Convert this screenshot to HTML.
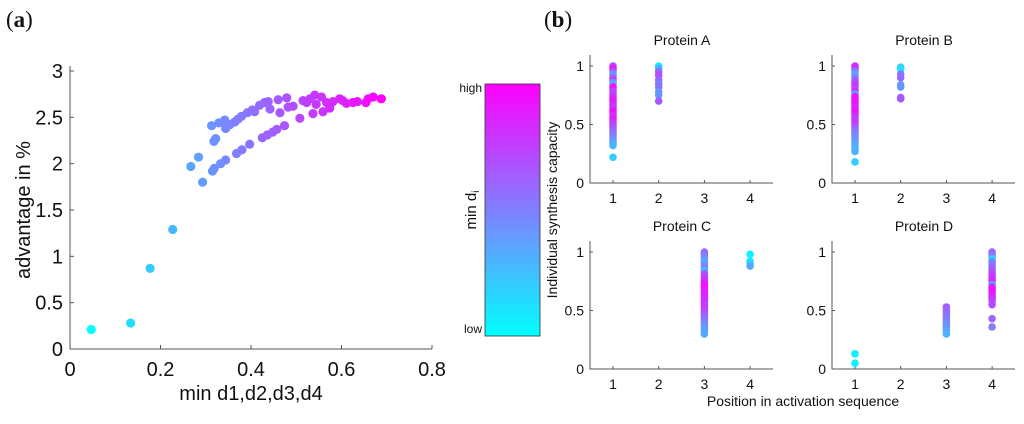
<!DOCTYPE html>
<html><head><meta charset="utf-8"><style>
body{margin:0;background:#fff;}
svg text{font-family:"Liberation Sans",sans-serif;fill:#111;}
</style></head><body>
<svg id="fig" width="1024" height="419" viewBox="0 0 1024 419" xmlns="http://www.w3.org/2000/svg">
<defs><linearGradient id="cb" x1="0" y1="0" x2="0" y2="1"><stop offset="0" stop-color="#ff00ff"/><stop offset="1" stop-color="#00ffff"/></linearGradient></defs>
<text x="6" y="27" style="font-family:'Liberation Serif',serif;font-size:23px">(<tspan font-weight="bold">a</tspan>)</text>
<text x="544" y="27" style="font-family:'Liberation Serif',serif;font-size:23px">(<tspan font-weight="bold">b</tspan>)</text>
<g id="left"></g>
<g id="right"></g>
<rect x="485" y="84" width="55" height="252" fill="url(#cb)" stroke="#333" stroke-width="0.8"/>
<text x="482" y="92" text-anchor="end" font-size="12">high</text>
<text x="482" y="333" text-anchor="end" font-size="12">low</text>
<text transform="translate(476,210) rotate(-90)" text-anchor="middle" font-size="15">min d<tspan font-size="10" dy="3">i</tspan></text>
<text transform="translate(557,210) rotate(-90)" text-anchor="middle" font-size="14">Individual synthesis capacity</text>
<text x="803" y="406" text-anchor="middle" font-size="14">Position in activation sequence</text>
</svg>
<script>
const NS="http://www.w3.org/2000/svg";
function mk(parent,tag,attrs){const e=document.createElementNS(NS,tag);for(const k in attrs)e.setAttribute(k,attrs[k]);parent.appendChild(e);return e;}
function cool(t){t=Math.max(0,Math.min(1,t));return `rgb(${Math.round(255*t)},${Math.round(255*(1-t))},255)`;}

// ---- Panel (a) data ----
const advX=[0.047,0.134,0.177,0.227,0.267,0.284,0.293,0.313,0.318,0.322,0.329,0.342,0.344,0.353,0.364,0.371,0.379,0.392,0.403,0.408,0.419,0.430,0.438,0.442,0.460,0.464,0.479,0.482,0.493,0.508,0.515,0.523,0.530,0.537,0.541,0.544,0.556,0.559,0.567,0.574,0.581,0.596,0.603,0.611,0.625,0.635,0.654,0.659,0.670,0.688,0.315,0.319,0.333,0.344,0.368,0.380,0.397,0.425,0.436,0.448,0.457,0.474];
const advY=[0.21,0.28,0.87,1.29,1.97,2.07,1.80,2.41,2.24,2.27,2.44,2.47,2.38,2.42,2.45,2.48,2.51,2.55,2.58,2.56,2.63,2.66,2.67,2.59,2.69,2.55,2.71,2.61,2.62,2.49,2.68,2.66,2.70,2.54,2.74,2.64,2.72,2.56,2.66,2.60,2.67,2.70,2.68,2.65,2.66,2.67,2.66,2.70,2.72,2.70,1.92,1.95,2.00,2.04,2.11,2.15,2.21,2.28,2.31,2.34,2.37,2.41];
const aXTicks=["0","0.2","0.4","0.6","0.8"];
const aYTicks=["0","0.5","1","1.5","2","2.5","3"];

const L=document.getElementById('left');
const ax=v=>70+v/0.8*362, ay=v=>349-v/3*278;
mk(L,'path',{d:`M70,66 V349 H432`,fill:'none',stroke:'#555','stroke-width':1});
aXTicks.forEach(s=>{const v=parseFloat(s);mk(L,'line',{x1:ax(v),x2:ax(v),y1:349,y2:345,stroke:'#555'});
 const t=mk(L,'text',{x:ax(v),y:376,'text-anchor':'middle','font-size':20});t.textContent=s;
 
 });
aYTicks.forEach(s=>{const v=parseFloat(s);mk(L,'line',{x1:70,x2:74,y1:ay(v),y2:ay(v),stroke:'#555'});
 const t=mk(L,'text',{x:63,y:ay(v)+7,'text-anchor':'end','font-size':20});t.textContent=s;
 
 });
let xl=mk(L,'text',{x:251,y:400,'text-anchor':'middle','font-size':20});xl.textContent='min d1,d2,d3,d4';


let yl=mk(L,'text',{transform:'translate(30,210) rotate(-90)','text-anchor':'middle','font-size':20});yl.textContent='advantage in %';


const xmin=Math.min(...advX),xmax=Math.max(...advX);
advX.forEach((x,i)=>{const c=mk(L,'circle',{cx:ax(x),cy:ay(advY[i]),r:4.6,fill:cool((x-xmin)/(xmax-xmin))});
 
 });

// ---- Panel (b) data ----
const proteins=["Protein A","Protein B","Protein C","Protein D"];
const posTicks=["1","2","3","4"];
const capTicks=["0","0.5","1"];
const posA=[1,1,1,1,1,1,1,1,1,1,1,1,1,1,1,1,1,1,1,1,1,1,1,1,1,1,1,1,1,1,1,1,1,1,1,1,2,2,2,2,2,2,2,2,2,2];
const valA=[1.0,0.98,0.96,0.94,0.92,0.90,0.88,0.86,0.84,0.82,0.80,0.78,0.76,0.74,0.72,0.70,0.68,0.66,0.64,0.62,0.60,0.58,0.56,0.54,0.52,0.50,0.48,0.46,0.44,0.42,0.40,0.38,0.36,0.34,0.32,0.22,1.0,0.98,0.95,0.92,0.88,0.85,0.82,0.78,0.75,0.70];
const colA=[0.7,0.9,0.8,0.5,0.4,0.6,0.8,0.4,0.35,0.95,0.9,0.7,0.75,0.8,0.85,0.9,0.85,0.8,0.75,0.9,0.95,0.8,0.85,0.9,0.8,0.75,0.7,0.65,0.6,0.55,0.5,0.45,0.4,0.35,0.3,0.2,0.05,0.3,0.6,0.7,0.6,0.5,0.55,0.4,0.4,0.65];
const posB=[1,1,1,1,1,1,1,1,1,1,1,1,1,1,1,1,1,1,1,1,1,1,1,1,1,1,1,1,1,1,1,1,1,1,1,1,1,1,2,2,2,2,2,2,2,2];
const valB=[1.0,0.98,0.96,0.94,0.92,0.90,0.88,0.86,0.84,0.82,0.80,0.78,0.76,0.74,0.72,0.70,0.68,0.66,0.64,0.62,0.60,0.58,0.56,0.54,0.52,0.50,0.48,0.46,0.44,0.42,0.40,0.38,0.36,0.34,0.32,0.29,0.27,0.18,0.99,0.97,0.93,0.90,0.84,0.82,0.73,0.72];
const colB=[0.8,0.85,0.6,0.4,0.35,0.5,0.6,0.7,0.75,0.8,0.7,0.85,0.3,0.9,0.95,0.9,0.95,0.9,0.85,0.9,0.95,0.85,0.8,0.75,0.8,0.75,0.7,0.6,0.55,0.5,0.45,0.45,0.4,0.35,0.35,0.3,0.3,0.2,0.2,0.1,0.55,0.6,0.4,0.4,0.65,0.65];
const posC=[3,3,3,3,3,3,3,3,3,3,3,3,3,3,3,3,3,3,3,3,3,3,3,3,3,3,3,3,3,3,3,3,3,3,3,3,4,4,4,4];
const valC=[1.0,0.98,0.96,0.94,0.92,0.90,0.88,0.86,0.84,0.82,0.80,0.78,0.76,0.74,0.72,0.70,0.68,0.66,0.64,0.62,0.60,0.58,0.56,0.54,0.52,0.50,0.48,0.46,0.44,0.42,0.40,0.38,0.36,0.34,0.32,0.30,0.98,0.92,0.90,0.88];
const colC=[0.6,0.55,0.5,0.4,0.35,0.4,0.45,0.5,0.2,0.6,0.7,0.75,0.8,0.85,0.9,0.95,0.9,0.85,0.9,0.85,0.8,0.85,0.8,0.75,0.8,0.75,0.7,0.65,0.6,0.55,0.5,0.45,0.4,0.4,0.35,0.35,0.05,0.1,0.15,0.35];
const posD=[1,1,3,3,3,3,3,3,3,3,3,3,3,3,4,4,4,4,4,4,4,4,4,4,4,4,4,4,4,4,4,4,4,4,4,4,4,4,4];
const valD=[0.13,0.05,0.53,0.51,0.49,0.47,0.45,0.43,0.41,0.39,0.37,0.35,0.33,0.30,1.0,0.98,0.96,0.94,0.92,0.90,0.88,0.86,0.84,0.82,0.80,0.78,0.76,0.74,0.72,0.70,0.68,0.66,0.64,0.62,0.60,0.58,0.55,0.43,0.36];
const colD=[0.05,0.05,0.65,0.6,0.6,0.55,0.55,0.5,0.5,0.45,0.45,0.4,0.35,0.3,0.6,0.55,0.5,0.1,0.45,0.5,0.55,0.6,0.65,0.7,0.75,0.8,0.85,0.8,0.3,0.85,0.9,0.95,0.9,0.85,0.8,0.75,0.7,0.6,0.5];
const panelsPos=[posA,posB,posC,posD], panelsVal=[valA,valB,valC,valD], panelsCol=[colA,colB,colC,colD];

const R=document.getElementById('right');
const origins=[[590,183],[832,183],[590,369],[832,369]];
origins.forEach((o,p)=>{
 const g=mk(R,'g',{});
 
 
 const [ox,oy]=o;
 const px=v=>ox+23+(v-1)*45.7, py=v=>oy-v*117;
 mk(g,'path',{d:`M${ox},${oy-128} V${oy} H${ox+183}`,fill:'none',stroke:'#555','stroke-width':1});
 posTicks.forEach(s=>{const v=+s;mk(g,'line',{x1:px(v),x2:px(v),y1:oy,y2:oy-3,stroke:'#555'});
  const t=mk(g,'text',{x:px(v),y:oy+20,'text-anchor':'middle','font-size':14});t.textContent=s;
  
  });
 capTicks.forEach(s=>{const v=+s;mk(g,'line',{x1:ox,x2:ox+3,y1:py(v),y2:py(v),stroke:'#555'});
  const t=mk(g,'text',{x:ox-6,y:py(v)+5,'text-anchor':'end','font-size':14});t.textContent=s;
  
  });
 const tt=mk(g,'text',{x:ox+92,y:oy-138,'text-anchor':'middle','font-size':14});tt.textContent=proteins[p];
 
 
 panelsPos[p].forEach((pos,i)=>{const c=mk(g,'circle',{cx:px(pos),cy:py(panelsVal[p][i]),r:3.8,fill:cool(panelsCol[p][i])});
  
  });
});
</script>
</body></html>
